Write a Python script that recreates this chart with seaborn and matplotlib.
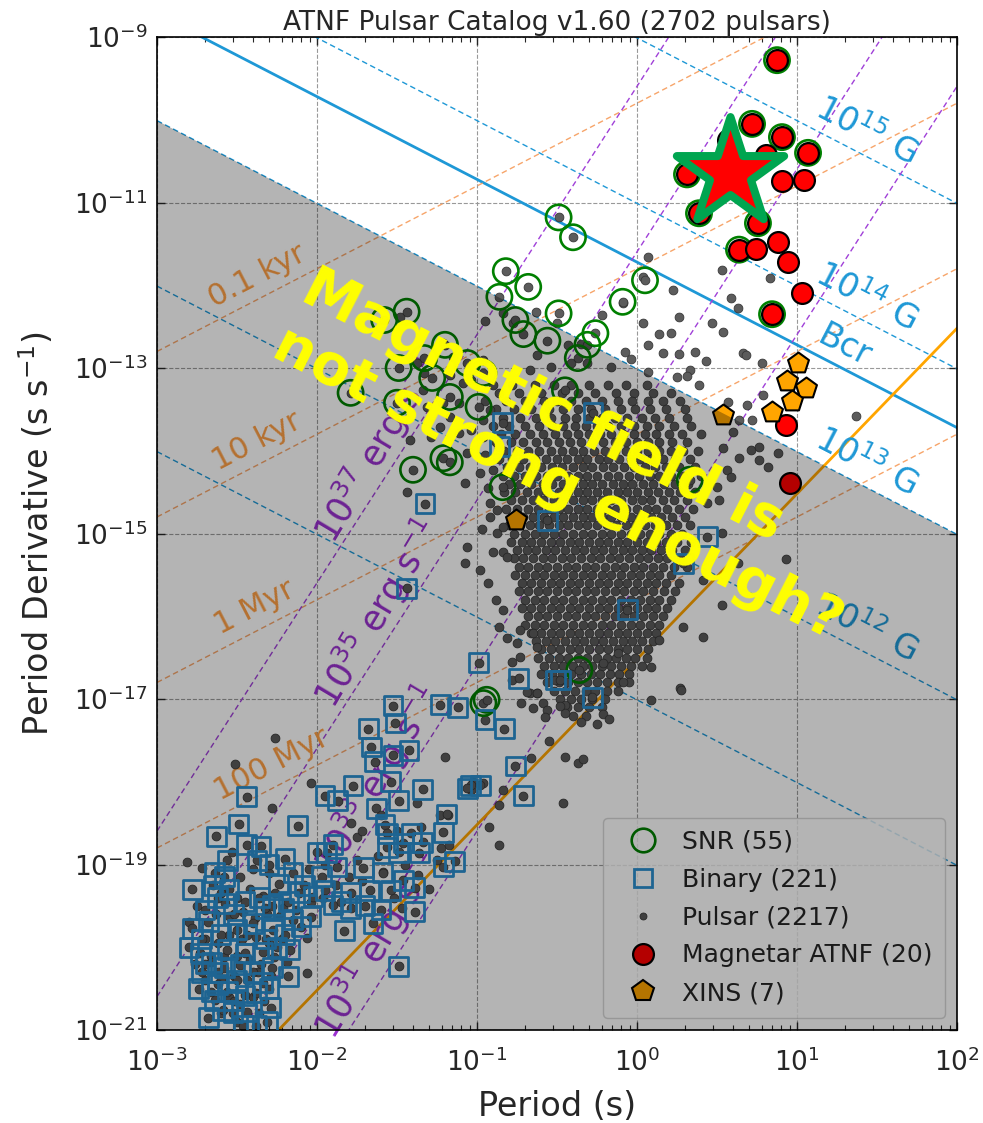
import numpy as np
import matplotlib
matplotlib.use("Agg")
import matplotlib.pyplot as plt
from matplotlib.lines import Line2D
from matplotlib.markers import MarkerStyle
from matplotlib.ticker import FixedLocator, LogLocator, NullLocator, NullFormatter, LogFormatterSciNotation
import seaborn as sns

# ---------------------------------------------------------------------------
# Catalogue positions, stored as (log10 P [s], log10 Pdot [s/s])
# ---------------------------------------------------------------------------
magnetar_logP = [0.875, 0.719, 0.906, 0.806, 1.069, 0.3125, 0.906, 1.044, 0.3875, 0.756,
                 0.6375, 0.744, 0.881, 0.944, 1.031, 0.844, 0.931, 0.956, 0.569, 0.506]
magnetar_logPdot = [-9.28, -10.05, -10.21, -10.43, -10.40, -10.66, -10.74, -10.73, -11.13, -11.25,
                    -11.57, -11.56, -11.48, -11.72, -12.09, -12.35, -13.69, -14.39, -10.24, -10.87]
magnetar_in_snr = [1, 1, 1, 0, 1, 1, 0, 0, 1, 1, 1, 0, 0, 0, 0, 1, 0, 0, 0, 0]

xins_logP = [1.006, 0.9375, 1.056, 0.969, 0.844, 0.5375, -0.756]
xins_logPdot = [-12.94, -13.16, -13.24, -13.40, -13.53, -13.57, -14.84]

snr_pts = [(-0.49, -11.18), (-0.40, -11.42), (-0.82, -11.83), (-0.68, -12.02), (-0.86, -12.14),
           (-0.49, -12.34), (-0.09, -12.20), (0.05, -11.94), (-1.58, -12.42), (-1.44, -12.32),
           (-0.71, -12.59), (-0.56, -12.67), (-0.31, -12.72), (-0.37, -12.88), (-1.33, -12.88),
           (-1.28, -13.12), (-1.79, -13.30), (-1.50, -13.42), (-1.17, -13.35), (-0.99, -13.47),
           (-0.96, -13.06), (-1.40, -14.23), (-1.21, -14.09), (-1.17, -14.14), (-0.84, -14.44),
           (-0.45, -13.27), (-0.96, -17.05), (-0.94, -17.01), (-0.36, -16.65), (-1.06, -12.94),
           (-1.20, -12.72), (-1.49, -13.00), (0.33, -14.35), (-0.26, -12.58), (-0.76, -12.42)]

binary_pts = [(-1.525, -17.08), (-1.23, -17.07), (-1.12, -17.10), (-0.95, -17.25), (-0.83, -17.36),
              (-1.68, -17.36), (-1.51, -17.29), (-1.66, -17.58), (-1.64, -17.76), (-1.525, -17.68),
              (-1.425, -17.62), (-0.76, -17.81), (-1.04, -18.04), (-0.98, -18.04), (-1.06, -18.08),
              (-1.34, -18.09), (-0.71, -18.17), (-1.775, -18.05), (-1.95, -18.17), (-1.87, -18.23),
              (-1.49, -18.23), (-1.63, -18.32), (-1.54, -18.00), (-2.44, -18.18), (-2.49, -18.51),
              (-2.63, -18.66), (-2.12, -18.53), (-1.19, -18.39), (-1.21, -18.61), (-1.575, -18.52),
              (-1.56, -18.62), (-1.41, -18.62), (-1.34, -18.73), (-1.46, -18.74), (-1.56, -18.79),
              (-1.49, -18.85), (-1.36, -18.86), (-1.90, -18.76), (-1.94, -18.86), (-2.35, -18.78),
              (-2.44, -18.76), (-2.375, -18.95), (-2.20, -18.93), (-1.21, -19.03), (-1.14, -18.96),
              (-1.875, -19.03), (-1.71, -19.04), (-1.59, -19.10), (-1.46, -19.19), (-1.39, -19.28),
              (-1.67, -19.31), (-1.54, -19.31), (-1.79, -19.34), (-1.90, -19.49), (-1.79, -19.53),
              (-1.39, -19.57), (-1.65, -19.71), (-1.83, -19.80), (-1.49, -20.23), (-2.64, -19.10),
              (-2.58, -19.15), (-2.24, -19.24), (-2.11, -19.34), (-2.025, -19.39), (-1.95, -19.31),
              (-2.21, -19.53), (-2.325, -19.53), (-2.575, -19.47), (-2.78, -19.77), (-2.68, -19.69),
              (-2.50, -19.79), (-2.40, -19.71), (-2.275, -19.79), (-2.15, -19.67), (-2.04, -19.63),
              (-2.73, -20.07), (-2.66, -20.18), (-2.56, -20.03), (-2.45, -20.07), (-2.34, -20.06),
              (-2.25, -20.00), (-2.17, -20.03), (-2.72, -20.30), (-2.62, -20.30), (-2.48, -20.21),
              (-2.34, -20.43), (-2.66, -20.54), (-2.56, -20.54), (-2.45, -20.58), (-2.64, -20.64),
              (-2.525, -20.79), (-2.44, -20.78), (-2.29, -20.73), (-2.31, -20.90), (-2.59, -20.76),
              (-2.70, -19.55), (-2.62, -19.40), (-2.55, -19.30), (-2.45, -19.45), (-2.36, -19.40),
              (-2.28, -19.50), (-2.18, -19.45), (-2.08, -19.25), (-2.72, -19.90), (-2.60, -19.85),
              (-2.52, -19.60), (-2.44, -19.85), (-2.32, -19.90), (-2.20, -19.85), (-2.10, -19.75),
              (-2.70, -20.20), (-2.58, -20.25), (-2.50, -20.40), (-2.40, -20.30), (-2.28, -20.25),
              (-2.18, -20.35), (-2.74, -20.50), (-2.62, -20.45), (-2.52, -20.65), (-2.38, -20.55),
              (-2.30, -20.50), (-2.68, -20.85), (-2.46, -20.95), (-2.38, -20.95), (-2.30, -19.00),
              (-2.15, -19.10), (-2.00, -18.85), (-1.97, -19.15), (-1.85, -19.45), (-1.70, -19.50),
              (-1.60, -19.55), (-2.56, -18.95), (-2.65, -19.25), (-2.78, -19.30), (-2.80, -20.00),
              (-1.325, -14.64), (-1.44, -15.66), (-0.99, -16.56), (-0.74, -16.75), (-0.84, -13.66),
              (-0.86, -13.95), (-0.51, -16.77), (-0.56, -14.84), (-0.275, -13.54), (0.44, -15.04),
              (0.29, -15.36), (-0.06, -15.92), (-0.48, -16.77), (-0.28, -16.98)]

# isolated millisecond pulsars
msp_pts = [(-2.70, -19.90), (-2.62, -19.95), (-2.55, -19.85), (-2.47, -19.90), (-2.38, -19.88),
           (-2.30, -19.95), (-2.22, -19.90), (-2.66, -20.10), (-2.58, -20.12), (-2.50, -20.10),
           (-2.42, -20.15), (-2.35, -20.20), (-2.27, -20.12), (-2.19, -20.18), (-2.70, -20.40),
           (-2.60, -20.38), (-2.52, -20.35), (-2.44, -20.40), (-2.37, -20.30), (-2.29, -20.35),
           (-2.63, -19.60), (-2.55, -19.62), (-2.46, -19.58), (-2.39, -19.65), (-2.31, -19.60),
           (-2.23, -19.62), (-2.13, -19.55), (-2.60, -19.35), (-2.50, -19.40), (-2.42, -19.30),
           (-2.34, -19.38), (-2.26, -19.35), (-2.04, -19.45), (-1.96, -19.40), (-2.55, -20.60),
           (-2.48, -20.68), (-2.40, -20.60), (-2.33, -20.65), (-2.60, -20.80), (-2.50, -20.90),
           (-2.36, -20.80), (-2.48, -19.15), (-2.30, -19.10), (-2.40, -19.05), (-1.88, -19.25),
           (-1.80, -19.15), (-1.72, -19.20), (-1.95, -19.00), (-2.05, -19.05), (-2.75, -19.50),
           (-2.80, -19.70), (-2.76, -20.20), (-1.75, -18.95), (-1.62, -18.90), (-1.45, -19.00),
           (-1.52, -19.40), (-1.30, -19.30), (-1.25, -18.95), (-1.35, -18.55), (-1.60, -18.40),
           (-1.72, -18.60), (-1.50, -18.60)]

# scattered normal pulsars around the main population
field_pts = [(0.07, -11.66), (0.53, -11.82), (0.83, -11.91), (0.04, -11.90), (0.225, -12.06),
             (0.59, -12.15), (0.63, -12.27), (-0.22, -12.36), (-0.09, -12.21), (0.26, -12.38),
             (0.04, -12.46), (0.47, -12.46), (0.54, -12.56), (0.14, -12.59), (0.21, -12.58),
             (0.07, -12.72), (-0.075, -12.81), (0.16, -12.82), (0.26, -12.83), (0.36, -12.81),
             (0.43, -12.92), (0.66, -12.82), (0.68, -12.84), (0.78, -12.94), (-0.04, -12.89),
             (-0.16, -12.99), (0.07, -13.05), (0.33, -13.02), (-0.35, -12.71), (-0.41, -12.94),
             (-0.31, -12.94), (0.25, -13.11), (0.31, -13.10), (0.39, -13.21), (0.57, -13.41),
             (0.69, -13.45), (0.79, -13.33), (0.72, -13.63), (0.64, -13.63), (1.37, -13.58),
             (0.60, -13.77), (0.54, -13.97), (0.71, -13.99), (0.76, -13.95), (0.64, -14.09),
             (0.76, -14.11), (0.82, -14.20), (0.88, -14.03), (0.56, -14.23), (0.59, -14.32),
             (0.50, -14.44), (0.51, -14.60), (0.44, -14.63), (0.53, -14.99), (0.93, -15.31),
             (0.63, -15.36), (0.41, -15.56), (0.53, -15.86), (0.29, -16.13), (0.41, -16.25),
             (0.14, -16.29), (0.09, -16.61), (0.27, -16.87), (0.09, -17.01), (-0.09, -16.79),
             (-0.21, -16.56), (-0.12, -16.44), (0.275, -16.89), (-0.21, -17.18), (-0.175, -17.24),
             (-0.25, -17.30), (-0.35, -17.28), (-0.45, -17.07), (-0.45, -17.17), (-0.45, -17.70),
             (-0.37, -17.77), (-0.34, -17.72), (-0.46, -18.26), (-0.67, -16.93), (-0.625, -16.93),
             (-0.725, -17.05), (-0.59, -17.05), (-0.65, -17.11), (-0.56, -17.13), (-0.575, -17.22),
             (-0.48, -17.08), (-0.55, -17.51), (-0.66, -17.71), (-0.84, -18.10), (-0.86, -18.28),
             (-0.925, -18.55), (-0.86, -18.76), (-1.20, -17.70), (-0.96, -18.02), (-1.025, -18.00),
             (-1.04, -18.10), (-2.04, -18.02), (-2.26, -17.47), (-2.51, -17.79), (-2.28, -18.32),
             (-2.81, -18.97), (-2.72, -19.04), (-2.53, -18.85), (-2.06, -20.31), (-2.06, -19.89),
             (-1.79, -18.50), (-1.75, -18.67), (-1.375, -18.26), (-1.23, -18.40), (-1.18, -18.40),
             (-1.225, -18.80), (-1.175, -18.76), (-1.37, -19.13), (-1.47, -19.53), (-1.59, -19.09),
             (-1.44, -14.50), (-1.075, -14.39), (-1.06, -15.16), (-1.075, -15.36), (-0.98, -15.44),
             (-0.92, -14.80), (-0.875, -14.99), (-0.90, -15.22), (-0.84, -15.22), (-0.81, -15.28),
             (-0.84, -15.92), (-0.86, -16.13), (-0.81, -16.26), (-0.78, -16.55), (-0.73, -16.17),
             (-0.75, -16.32), (-0.65, -16.20), (-0.625, -16.37), (-0.73, -16.49), (-0.69, -16.92),
             (-0.625, -16.93), (-0.78, -16.77), (-1.09, -13.18), (-0.92, -13.51), (-0.96, -13.63),
             (-1.04, -13.75), (-0.96, -13.83), (-0.875, -14.08), (-0.90, -14.23), (-0.98, -14.27),
             (-0.92, -14.63), (-0.875, -14.72), (-0.84, -14.92), (-1.34, -13.27), (-1.31, -13.47),
             (-1.21, -13.42), (-1.17, -13.59), (-1.23, -13.71), (-1.11, -13.79), (-1.06, -14.03),
             (-1.11, -13.42), (-1.04, -13.14), (-1.42, -13.87), (-1.29, -13.83), (-0.63, -12.32),
             (-0.95, -12.43), (-0.84, -12.34), (-0.775, -12.46), (-0.50, -12.46), (-1.21, -12.70),
             (-1.15, -12.87), (-0.96, -12.90), (-0.625, -12.84), (-0.54, -12.99), (-0.67, -13.02),
             (-1.17, -13.08), (-1.33, -13.06), (-1.375, -12.94), (-1.48, -12.38), (-0.43, -12.72),
             (-0.95, -14.05), (-0.93, -14.45), (-0.97, -14.95), (-0.93, -15.60), (-0.88, -15.80)]

# dense body of the normal-pulsar population: one row per log10 Pdot value
core_rows = [
    (-13.2, [-0.90, -0.78, -0.64, -0.52, -0.41, -0.30, -0.18, -0.07, 0.06]),
    (-13.3, [-0.86, -0.74, -0.60, -0.47, -0.37, -0.26, -0.13, -0.02, 0.10, 0.21]),
    (-13.4, [-0.95, -0.82, -0.70, -0.58, -0.50, -0.41, -0.32, -0.22, -0.12, -0.03, 0.07, 0.16, 0.27]),
    (-13.5, [-0.88, -0.77, -0.66, -0.55, -0.46, -0.37, -0.29, -0.20, -0.10, -0.01, 0.08, 0.18, 0.30]),
    (-13.6, [-0.84, -0.73, -0.63, -0.54, -0.45, -0.38, -0.30, -0.22, -0.14, -0.06, 0.03, 0.11, 0.20, 0.31]),
    (-13.7, [-0.90, -0.80, -0.70, -0.61, -0.53, -0.46, -0.39, -0.32, -0.25, -0.18, -0.10, -0.02, 0.06, 0.14, 0.23, 0.34]),
    (-13.8, [-0.85, -0.76, -0.67, -0.59, -0.51, -0.44, -0.37, -0.30, -0.23, -0.16, -0.09, -0.02, 0.05, 0.12, 0.20, 0.28, 0.40]),
    (-13.9, [-0.88, -0.79, -0.71, -0.63, -0.56, -0.49, -0.42, -0.35, -0.28, -0.21, -0.14, -0.07, 0.00, 0.07, 0.14, 0.22, 0.31]),
    (-14.0, [-0.83, -0.75, -0.68, -0.61, -0.54, -0.47, -0.40, -0.34, -0.27, -0.20, -0.14, -0.07, 0.00, 0.07, 0.14, 0.21, 0.29, 0.38]),
    (-14.1, [-0.86, -0.78, -0.71, -0.64, -0.57, -0.50, -0.44, -0.37, -0.31, -0.24, -0.18, -0.11, -0.04, 0.02, 0.09, 0.16, 0.24, 0.33]),
    (-14.2, [-0.81, -0.74, -0.67, -0.60, -0.53, -0.47, -0.40, -0.34, -0.28, -0.21, -0.15, -0.08, -0.02, 0.05, 0.11, 0.18, 0.26, 0.36]),
    (-14.3, [-0.84, -0.77, -0.70, -0.63, -0.56, -0.50, -0.43, -0.37, -0.31, -0.25, -0.18, -0.12, -0.05, 0.01, 0.08, 0.14, 0.21, 0.29, 0.40]),
    (-14.4, [-0.80, -0.73, -0.66, -0.59, -0.53, -0.46, -0.40, -0.34, -0.28, -0.22, -0.15, -0.09, -0.03, 0.04, 0.10, 0.17, 0.24, 0.32]),
    (-14.5, [-0.83, -0.76, -0.69, -0.62, -0.56, -0.49, -0.43, -0.37, -0.31, -0.25, -0.19, -0.12, -0.06, 0.00, 0.07, 0.13, 0.20, 0.27, 0.36]),
    (-14.6, [-0.79, -0.72, -0.65, -0.59, -0.52, -0.46, -0.40, -0.34, -0.28, -0.22, -0.16, -0.10, -0.03, 0.03, 0.09, 0.16, 0.23, 0.31]),
    (-14.7, [-0.82, -0.75, -0.68, -0.62, -0.55, -0.49, -0.43, -0.37, -0.31, -0.25, -0.19, -0.13, -0.07, 0.00, 0.06, 0.12, 0.19, 0.26, 0.35]),
    (-14.8, [-0.78, -0.71, -0.65, -0.58, -0.52, -0.46, -0.40, -0.34, -0.28, -0.22, -0.16, -0.10, -0.04, 0.02, 0.09, 0.15, 0.22, 0.30]),
    (-14.9, [-0.80, -0.73, -0.67, -0.61, -0.55, -0.49, -0.43, -0.37, -0.31, -0.25, -0.19, -0.13, -0.07, -0.01, 0.05, 0.11, 0.18, 0.25, 0.33]),
    (-15.0, [-0.77, -0.70, -0.64, -0.58, -0.52, -0.46, -0.40, -0.34, -0.28, -0.22, -0.16, -0.10, -0.04, 0.02, 0.08, 0.14, 0.21, 0.28]),
    (-15.1, [-0.79, -0.72, -0.66, -0.60, -0.54, -0.48, -0.42, -0.36, -0.30, -0.24, -0.18, -0.12, -0.06, 0.00, 0.06, 0.12, 0.18, 0.25, 0.34]),
    (-15.2, [-0.75, -0.69, -0.63, -0.57, -0.51, -0.45, -0.39, -0.33, -0.27, -0.21, -0.15, -0.09, -0.03, 0.03, 0.09, 0.15, 0.22, 0.30]),
    (-15.3, [-0.77, -0.71, -0.65, -0.59, -0.53, -0.47, -0.41, -0.35, -0.29, -0.23, -0.17, -0.11, -0.05, 0.01, 0.07, 0.13, 0.19, 0.27]),
    (-15.4, [-0.74, -0.68, -0.62, -0.56, -0.50, -0.44, -0.38, -0.32, -0.26, -0.20, -0.14, -0.08, -0.02, 0.04, 0.10, 0.16, 0.23, 0.31]),
    (-15.5, [-0.76, -0.70, -0.64, -0.58, -0.52, -0.46, -0.40, -0.34, -0.28, -0.22, -0.16, -0.10, -0.04, 0.02, 0.08, 0.14, 0.21]),
    (-15.6, [-0.72, -0.66, -0.60, -0.54, -0.48, -0.42, -0.36, -0.30, -0.24, -0.18, -0.12, -0.06, 0.00, 0.06, 0.12, 0.18, 0.26]),
    (-15.7, [-0.74, -0.68, -0.62, -0.56, -0.50, -0.44, -0.38, -0.32, -0.26, -0.20, -0.14, -0.08, -0.02, 0.04, 0.10, 0.17, 0.24]),
    (-15.8, [-0.70, -0.64, -0.58, -0.52, -0.46, -0.40, -0.34, -0.28, -0.22, -0.16, -0.10, -0.04, 0.02, 0.08, 0.14, 0.21]),
    (-15.9, [-0.72, -0.66, -0.60, -0.54, -0.48, -0.42, -0.36, -0.30, -0.24, -0.18, -0.12, -0.06, 0.00, 0.06, 0.12, 0.19]),
    (-16.0, [-0.68, -0.62, -0.56, -0.50, -0.44, -0.38, -0.32, -0.26, -0.20, -0.14, -0.08, -0.02, 0.04, 0.10, 0.16]),
    (-16.1, [-0.70, -0.64, -0.58, -0.52, -0.46, -0.40, -0.34, -0.28, -0.22, -0.16, -0.10, -0.04, 0.02, 0.08, 0.14]),
    (-16.2, [-0.66, -0.60, -0.54, -0.48, -0.42, -0.36, -0.30, -0.24, -0.18, -0.12, -0.06, 0.00, 0.06, 0.12]),
    (-16.3, [-0.63, -0.57, -0.51, -0.45, -0.39, -0.33, -0.27, -0.21, -0.15, -0.09, -0.03, 0.03, 0.10]),
    (-16.4, [-0.60, -0.54, -0.48, -0.42, -0.36, -0.30, -0.24, -0.18, -0.12, -0.06, 0.00, 0.07]),
    (-16.5, [-0.62, -0.55, -0.49, -0.43, -0.37, -0.31, -0.25, -0.19, -0.13, -0.07, -0.01, 0.06]),
    (-16.6, [-0.58, -0.52, -0.46, -0.40, -0.34, -0.28, -0.22, -0.16, -0.10, -0.04, 0.03]),
    (-16.7, [-0.60, -0.53, -0.47, -0.41, -0.35, -0.29, -0.23, -0.17, -0.11, -0.05]),
    (-16.8, [-0.56, -0.49, -0.43, -0.37, -0.31, -0.25, -0.19, -0.12, -0.05]),
    (-16.9, [-0.52, -0.45, -0.39, -0.32, -0.26, -0.19, -0.12]),
    (-17.0, [-0.48, -0.41, -0.35, -0.28, -0.20]),
    (-17.1, [-0.44, -0.37, -0.30, -0.22]),
    (-17.2, [-0.40, -0.32]),
]

# highlighted source
star_logP = [0.581]
star_logPdot = [-10.64]

# reference-line levels
B_dashed = [1e11, 1e12, 1e13, 1e14, 1e15]
B_labelled = [1e12, 1e13, 1e14, 1e15]
B_crit = 4.414e13
ages_yr = [1e2, 1e4, 1e6, 1e8]
age_labels = ["0.1 kyr", "10 kyr", "1 Myr", "100 Myr"]
edot_levels = [1e31, 1e33, 1e35, 1e37]
death_slope, death_logc = 2.0, -16.52

# colours
c_blue = "#1e98d6"
c_age = "#f7a56a"
c_age_txt = "#ffa044"
c_edot = "#a040d8"
c_edot_txt = "#9a30d0"
c_dot = "#5c5c5c"
c_dot_edge = "#383838"
c_bin = "#2b8fcf"
c_snr = "green"

# ---------------------------------------------------------------------------
def pairs(pts):
    a = np.array(pts, dtype=float)
    return 10 ** a[:, 0], 10 ** a[:, 1]

core_l = [l for L, ls in core_rows for l in ls]
core_L = [L for L, ls in core_rows for l in ls]

psr_P = np.concatenate([10 ** np.array(core_l), pairs(field_pts)[0], pairs(msp_pts)[0],
                        pairs(binary_pts)[0], pairs(snr_pts)[0]])
psr_Pdot = np.concatenate([10 ** np.array(core_L), pairs(field_pts)[1], pairs(msp_pts)[1],
                           pairs(binary_pts)[1], pairs(snr_pts)[1]])

B_CONST = 3.2e19
I_NS = 1e45
YR = 3.156e7

def pdot_B(B, P):
    return (B / B_CONST) ** 2 / P

def pdot_age(tau_yr, P):
    return P / (2.0 * tau_yr * YR)

def pdot_edot(E, P):
    return E * P ** 3 / (4 * np.pi ** 2 * I_NS)

sns.set_theme(style="ticks")
plt.rcParams["font.family"] = ["DejaVu Sans"]
plt.rcParams["mathtext.fontset"] = "dejavusans"

fig = plt.figure(figsize=(9.83, 11.23), dpi=100)
ax = fig.add_axes([157 / 983, 1 - 1030 / 1123, 800 / 983, 993 / 1123])
ax.set_xscale("log")
ax.set_yscale("log")
ax.set_xlim(1e-3, 1e2)
ax.set_ylim(1e-21, 1e-9)

P = np.logspace(-3, 2, 500)

# constant-field lines
for B in B_dashed:
    ax.plot(P, pdot_B(B, P), ls=(0, (4, 2.5)), color=c_blue, lw=1.0, zorder=1.5)
ax.plot(P, pdot_B(B_crit, P), color=c_blue, lw=2.0, zorder=1.5)

# characteristic-age lines
for t in ages_yr:
    ax.plot(P, pdot_age(t, P), ls=(0, (4, 2.5)), color=c_age, lw=1.0, zorder=1.5)

# spin-down luminosity lines
for E in edot_levels:
    ax.plot(P, pdot_edot(E, P), ls=(0, (4, 2.5)), color=c_edot, lw=1.0, zorder=1.5)

# death line
ax.plot(P, 10 ** death_logc * P ** death_slope, color="orange", lw=2.0, zorder=1.6)

# pixel slopes of the reference lines
fig.canvas.draw()
def line_angle(slope):
    p0 = ax.transData.transform((1e-2, 1e-15))
    p1 = ax.transData.transform((1e-1, 1e-15 * 10 ** slope))
    return np.degrees(np.arctan2(p1[1] - p0[1], p1[0] - p0[0]))

ang_B = line_angle(-1)
ang_age = line_angle(1)
ang_E = line_angle(3) + 2

# labels for the reference lines
P_lab = 10 ** 1.43
for B in B_labelled:
    ax.text(P_lab, pdot_B(B, P_lab) * 10 ** 0.30, r"$10^{%d}$ G" % int(np.log10(B)),
            color=c_blue, fontsize=24, rotation=ang_B, ha="center", va="center", zorder=1.7)
P_bcr = 10 ** 1.30
ax.text(P_bcr, pdot_B(B_crit, P_bcr) * 10 ** 0.29, "Bcr", color=c_blue, fontsize=24,
        rotation=ang_B, ha="center", va="center", zorder=1.7)

age_P = [4.2e-3, 4.2e-3, 4.1e-3, 5.2e-3]
for t, lab, p in zip(ages_yr, age_labels, age_P):
    ax.text(p, pdot_age(t, p) * 10 ** 0.29, lab, color=c_age_txt, fontsize=22,
            rotation=ang_age, ha="center", va="center", zorder=1.7)

P_e = 0.0237
for E in edot_levels:
    ax.text(P_e, pdot_edot(E, P_e) * 10 ** 0.50, r"$10^{%d}$ erg s$^{-1}$" % int(np.log10(E)),
            color=c_edot_txt, fontsize=25, rotation=ang_E, ha="center", va="center", zorder=1.7)

# pulsars
sns.scatterplot(x=psr_P, y=psr_Pdot, ax=ax, marker="o", s=40, color=c_dot,
                edgecolor=c_dot_edge, linewidth=0.6, zorder=2, legend=False)

snr_P, snr_Pdot = pairs(snr_pts)
mag_P = 10 ** np.array(magnetar_logP)
mag_Pdot = 10 ** np.array(magnetar_logPdot)
in_snr = np.array(magnetar_in_snr, dtype=bool)
snr_all_P = np.concatenate([snr_P, mag_P[in_snr]])
snr_all_Pdot = np.concatenate([snr_Pdot, mag_Pdot[in_snr]])
sns.scatterplot(x=snr_all_P, y=snr_all_Pdot, ax=ax, marker="o", s=330, facecolor="none",
                edgecolor=c_snr, linewidth=1.9, zorder=3, legend=False)

bin_P, bin_Pdot = pairs(binary_pts)
sns.scatterplot(x=bin_P, y=bin_Pdot, ax=ax, marker="s", s=185, facecolor="none",
                edgecolor=c_bin, linewidth=2.0, zorder=3, legend=False)

sns.scatterplot(x=mag_P, y=mag_Pdot, ax=ax, marker="o", s=225, color="red",
                edgecolor="black", linewidth=1.6, zorder=4, legend=False)

sns.scatterplot(x=10 ** np.array(xins_logP), y=10 ** np.array(xins_logPdot), ax=ax, marker="p",
                s=250, color="orange", edgecolor="black", linewidth=1.5, zorder=4, legend=False)

sns.scatterplot(x=10 ** np.array(star_logP), y=10 ** np.array(star_logPdot), ax=ax,
                marker=MarkerStyle("*", joinstyle="miter"), s=6600, color="red",
                edgecolor="#00a550", linewidth=5.8, zorder=5, legend=False)

# region below the 1e13 G line
ax.fill_between(P, 1e-25, pdot_B(1e13, P), color="black", alpha=0.295, lw=0, zorder=6)

ax.text(0.39, 8.5e-15, "Magnetic field is\nnot strong enough?", color="#ffff00", fontsize=41,
        fontweight="bold", rotation=-27, ha="center", va="center", multialignment="left",
        zorder=10)

# legend
handles = [
    Line2D([], [], ls="", marker="o", mfc="none", mec=c_snr, mew=1.9, ms=17, label="SNR (55)"),
    Line2D([], [], ls="", marker="s", mfc="none", mec=c_bin, mew=2.0, ms=13, label="Binary (221)"),
    Line2D([], [], ls="", marker="o", mfc=c_dot, mec=c_dot_edge, mew=0.6, ms=5, label="Pulsar (2217)"),
    Line2D([], [], ls="", marker="o", mfc="red", mec="black", mew=1.6, ms=15, label="Magnetar ATNF (20)"),
    Line2D([], [], ls="", marker="p", mfc="orange", mec="black", mew=1.5, ms=16, label="XINS (7)"),
]
leg = ax.legend(handles=handles, loc="lower right", fontsize=18, frameon=True,
                handletextpad=0.45, borderpad=0.5, labelspacing=0.55, handlelength=2.2)
leg.set_zorder(5)

# axes cosmetics
ax.yaxis.set_major_locator(FixedLocator(10.0 ** np.arange(-21, -8, 2)))
ax.yaxis.set_major_formatter(LogFormatterSciNotation())
ax.yaxis.set_minor_locator(NullLocator())
ax.xaxis.set_major_locator(LogLocator(base=10, numticks=10))
ax.xaxis.set_minor_locator(LogLocator(base=10, subs=np.arange(2, 10), numticks=20))
ax.xaxis.set_minor_formatter(NullFormatter())
ax.tick_params(which="both", direction="in", top=True, right=True, labelsize=19)
ax.tick_params(which="major", length=6, width=1.0)
ax.tick_params(axis="x", which="major", pad=13)
ax.tick_params(axis="y", which="major", pad=7)
ax.tick_params(which="minor", length=3.5, width=0.8)
ax.grid(True, which="major", ls="--", color="0.6", lw=0.8)
ax.set_axisbelow(True)
for sp in ax.spines.values():
    sp.set_color("black")
    sp.set_linewidth(1.2)

ax.set_xlabel("Period (s)", fontsize=24, labelpad=10)
ax.set_ylabel(r"Period Derivative (s s$^{-1}$)", fontsize=24, labelpad=13)
ax.set_title("ATNF Pulsar Catalog v1.60 (2702 pulsars)", fontsize=19, pad=5)

fig.savefig("out.png", dpi=100)
